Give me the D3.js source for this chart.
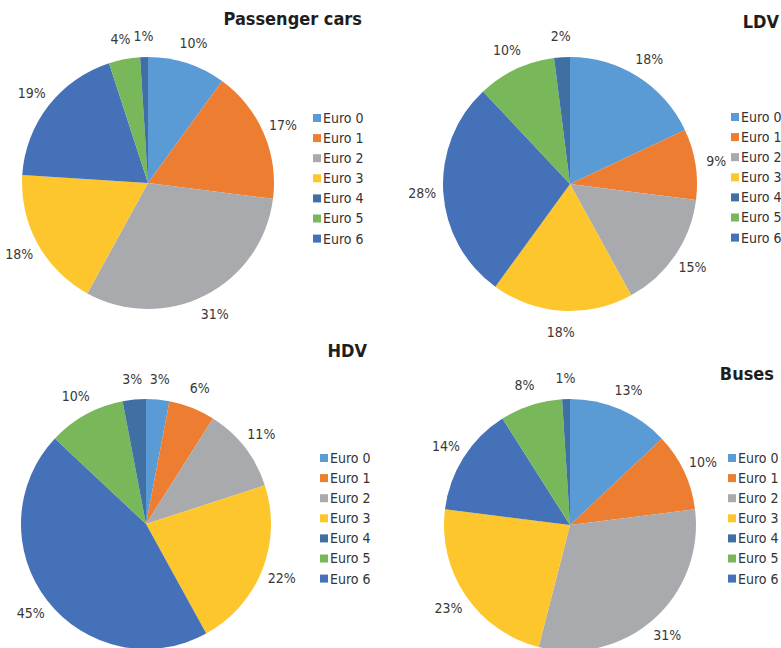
<!DOCTYPE html>
<html>
<head>
<meta charset="utf-8">
<script src="https://cdn.jsdelivr.net/npm/d3@7"></script>
<style>
  body { margin: 0; background: #fff; }
  svg { display: block; }
  text { font-family: "Liberation Sans Narrow", "DejaVu Sans", sans-serif; font-stretch: condensed; }
</style>
</head>
<body>
<svg id="chart" width="781" height="648"></svg>
<script>
// categories (legend order)
const categories = ['Euro 0', 'Euro 1', 'Euro 2', 'Euro 3', 'Euro 4', 'Euro 5', 'Euro 6']
// order the slices run clockwise from 12 o'clock
const sliceOrder = ['Euro 0', 'Euro 1', 'Euro 2', 'Euro 3', 'Euro 6', 'Euro 5', 'Euro 4']

// shares in %, same order as categories
const passengerCars = [10, 17, 31, 18, 1, 4, 19]
const ldv = [18, 9, 15, 18, 2, 10, 28]
const hdv = [3, 6, 11, 22, 3, 10, 45]
const buses = [13, 10, 31, 23, 1, 8, 14]

const colors = ['#5b9bd5', '#ed7d31', '#a9aaae', '#fcc62c', '#3f6fa3', '#78b75a', '#4471b8']

const panels = [
  { title: 'Passenger cars', values: passengerCars, cx: 148, cy: 183, r: 126, titleX: 362, titleY: 25, legX: 313, legY: 118 },
  { title: 'LDV', values: ldv, cx: 570, cy: 184, r: 127, titleX: 779, titleY: 28, legX: 731, legY: 117 },
  { title: 'HDV', values: hdv, cx: 146, cy: 524, r: 125, titleX: 367, titleY: 357, legX: 320, legY: 458 },
  { title: 'Buses', values: buses, cx: 570, cy: 525, r: 126, titleX: 774, titleY: 380, legX: 728, legY: 458 }
]

const color = d3.scaleOrdinal().domain(categories).range(colors)
const svg = d3.select('#chart')

const pie = d3.pie()
  .sort(null)
  .value((d) => d.value)

panels.forEach((p) => {
  const data = sliceOrder.map((c) => ({ cat: c, value: p.values[categories.indexOf(c)] }))
  const arcs = pie(data)

  const arc = d3.arc().innerRadius(0).outerRadius(p.r)
  const labelArc = d3.arc().innerRadius(p.r + 21).outerRadius(p.r + 21)

  const g = svg.append('g').attr('transform', `translate(${p.cx},${p.cy})`)

  g.selectAll('path')
    .data(arcs)
    .enter()
    .append('path')
    .attr('d', arc)
    .attr('fill', (d) => color(d.data.cat))

  g.selectAll('.lbl')
    .data(arcs)
    .enter()
    .append('text')
    .attr('class', 'lbl')
    .attr('transform', (d) => `translate(${labelArc.centroid(d)})`)
    .attr('text-anchor', 'middle')
    .attr('dy', '0.35em')
    .style('font-size', '14px')
    .attr('fill', '#383838')
    .text((d) => d.data.value + '%')

  // title
  svg.append('text')
    .attr('x', p.titleX)
    .attr('y', p.titleY)
    .attr('text-anchor', 'end')
    .style('font-size', '18px')
    .style('font-weight', 'bold')
    .attr('fill', '#1e1e1e')
    .text(p.title)

  // legend
  const leg = svg.append('g').attr('transform', `translate(${p.legX},${p.legY})`)
  const item = leg.selectAll('g')
    .data(categories)
    .enter()
    .append('g')
    .attr('transform', (_, i) => `translate(0,${i * 20.1})`)
  item.append('rect')
    .attr('x', 0)
    .attr('y', -4)
    .attr('width', 8)
    .attr('height', 8)
    .attr('fill', (d) => color(d))
  item.append('text')
    .attr('x', 10)
    .attr('dy', '0.35em')
    .style('font-size', '14px')
    .attr('fill', '#333')
    .text((d) => d)
})
</script>
</body>
</html>
